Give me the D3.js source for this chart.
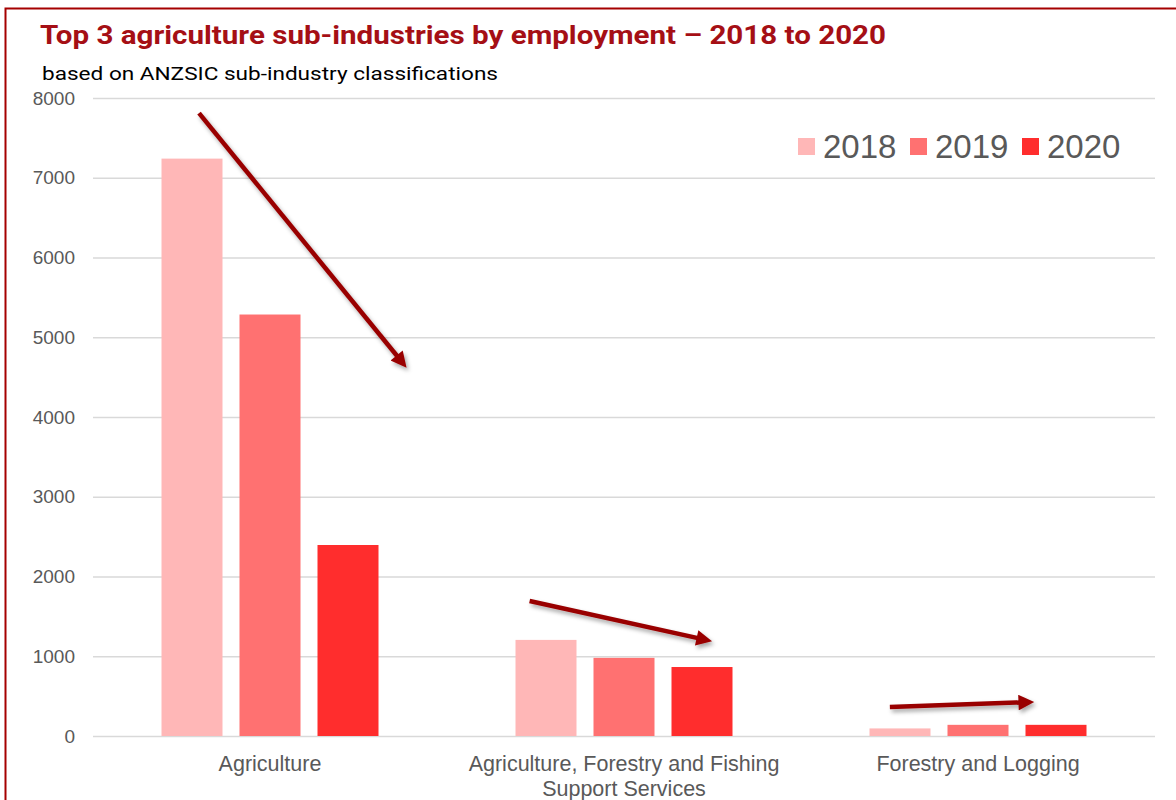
<!DOCTYPE html>
<html>
<head>
<meta charset="utf-8">
<script src="https://cdn.jsdelivr.net/npm/d3@7"></script>
<style>
  html, body { margin: 0; padding: 0; background: #fff; }
  svg { display: block; }
</style>
</head>
<body>
<svg id="chart" width="1176" height="800"></svg>
<script>
const categories = ["Agriculture", "Agriculture, Forestry and Fishing\nSupport Services", "Forestry and Logging"];
const seriesNames = ["2018", "2019", "2020"];
const values2018 = [7240, 1205, 95];
const values2019 = [5285, 980, 140];
const values2020 = [2395, 865, 140];
const yTicks = [0, 1000, 2000, 3000, 4000, 5000, 6000, 7000, 8000];
const colors = ["#FFB7B7", "#FF7171", "#FF2D2D"];
// trend arrows: [category index, offset in bar slots from group centre, value]
const trendArrows = [
  { from: [0, -0.91, 7810], to: [0, 1.70, 4680] },
  { from: [1, -1.21, 1693], to: [1, 1.05, 1205] },
  { from: [2, -1.13, 364], to: [2, 0.64, 424] }
];

const svg = d3.select("#chart");
const W = 1176, H = 800;
const margin = { left: 93, right: 21, top: 98, bottom: 64 };

// frame
svg.append("rect").attr("x", 5.5).attr("y", 8.5).attr("width", W + 10).attr("height", H + 10)
  .attr("fill", "none").attr("stroke", "#A50000").attr("stroke-width", 2);

const x0 = d3.scaleBand().domain(d3.range(categories.length))
  .range([margin.left, W - margin.right]).paddingInner(0).paddingOuter(0);
const barW = 61, gap = 17;
const y = d3.scaleLinear().domain([0, 8000]).range([H - margin.bottom, margin.top]);

// defs
const defs = svg.append("defs");
const f = defs.append("filter").attr("id", "shadow").attr("x", "-20%").attr("y", "-20%").attr("width", "140%").attr("height", "140%");
f.append("feDropShadow").attr("dx", 2).attr("dy", 3).attr("stdDeviation", 2).attr("flood-color", "#000").attr("flood-opacity", 0.35);
defs.append("marker").attr("id", "arrowhead").attr("viewBox", "0 0 10 10")
  .attr("refX", 6).attr("refY", 5).attr("markerWidth", 4.0).attr("markerHeight", 3.5)
  .attr("markerUnits", "strokeWidth").attr("orient", "auto")
  .append("path").attr("d", "M0,0 L10,5 L0,10 z").attr("fill", "#990000");

// gridlines + y axis
const yAxis = d3.axisLeft(y).tickValues(yTicks).tickSize(-(W - margin.left - margin.right)).tickFormat(d3.format("d")).tickPadding(18);
const ga = svg.append("g").attr("transform", `translate(${margin.left},0)`).call(yAxis);
ga.select(".domain").remove();
ga.selectAll(".tick line").attr("stroke", "#D9D9D9").attr("stroke-width", 1.3);
ga.selectAll(".tick text").attr("fill", "#595959").attr("font-family", "Liberation Sans, Arial, sans-serif").attr("font-size", 19);

// bars
const series = [values2018, values2019, values2020];
const groupOffset = (x0.bandwidth() - (3 * barW + 2 * gap)) / 2;
series.forEach((vals, si) => {
  svg.append("g").selectAll("rect").data(vals).join("rect")
    .attr("x", (d, i) => x0(i) + groupOffset + si * (barW + gap))
    .attr("y", d => y(d))
    .attr("width", barW)
    .attr("height", d => y(0) - y(d))
    .attr("fill", colors[si]);
});

// x labels
const xl = svg.append("g");
categories.forEach((c, i) => {
  const t = xl.append("text").attr("x", x0(i) + x0.bandwidth() / 2).attr("y", 771)
    .attr("text-anchor", "middle").attr("fill", "#595959")
    .attr("font-family", "Liberation Sans, Arial, sans-serif").attr("font-size", 21.5);
  c.split("\n").forEach((line, k) => {
    t.append("tspan").attr("x", x0(i) + x0.bandwidth() / 2).attr("dy", k === 0 ? 0 : 25).text(line);
  });
});

// arrows
const ax = (p) => x0(p[0]) + x0.bandwidth() / 2 + p[1] * (barW + gap);
svg.append("g").attr("filter", "url(#shadow)").selectAll("line").data(trendArrows).join("line")
  .attr("x1", d => ax(d.from)).attr("y1", d => y(d.from[2]))
  .attr("x2", d => ax(d.to)).attr("y2", d => y(d.to[2]))
  .attr("stroke", "#990000").attr("stroke-width", 4.5)
  .attr("marker-end", "url(#arrowhead)");

// title
svg.append("text").attr("x", 40).attr("y", 44).text("Top 3 agriculture sub-industries by employment – 2018 to 2020")
  .attr("fill", "#A50F15").attr("font-family", "Roboto, Noto Sans, sans-serif").attr("font-weight", "bold")
  .attr("font-size", 26).attr("textLength", 846).attr("lengthAdjust", "spacingAndGlyphs");
svg.append("text").attr("x", 42).attr("y", 80).text("based on ANZSIC sub-industry classifications")
  .attr("fill", "#000").attr("font-family", "Roboto, Noto Sans, sans-serif")
  .attr("font-size", 18).attr("textLength", 456).attr("lengthAdjust", "spacingAndGlyphs");

// legend
const lg = svg.append("g");
const legX = [798, 910, 1022];
seriesNames.forEach((s, i) => {
  lg.append("rect").attr("x", legX[i]).attr("y", 138).attr("width", 17).attr("height", 17).attr("fill", colors[i]);
  lg.append("text").attr("x", legX[i] + 25).attr("y", 158).text(s)
    .attr("fill", "#595959").attr("font-family", "Liberation Sans, Arial, sans-serif").attr("font-size", 33);
});
</script>
</body>
</html>
